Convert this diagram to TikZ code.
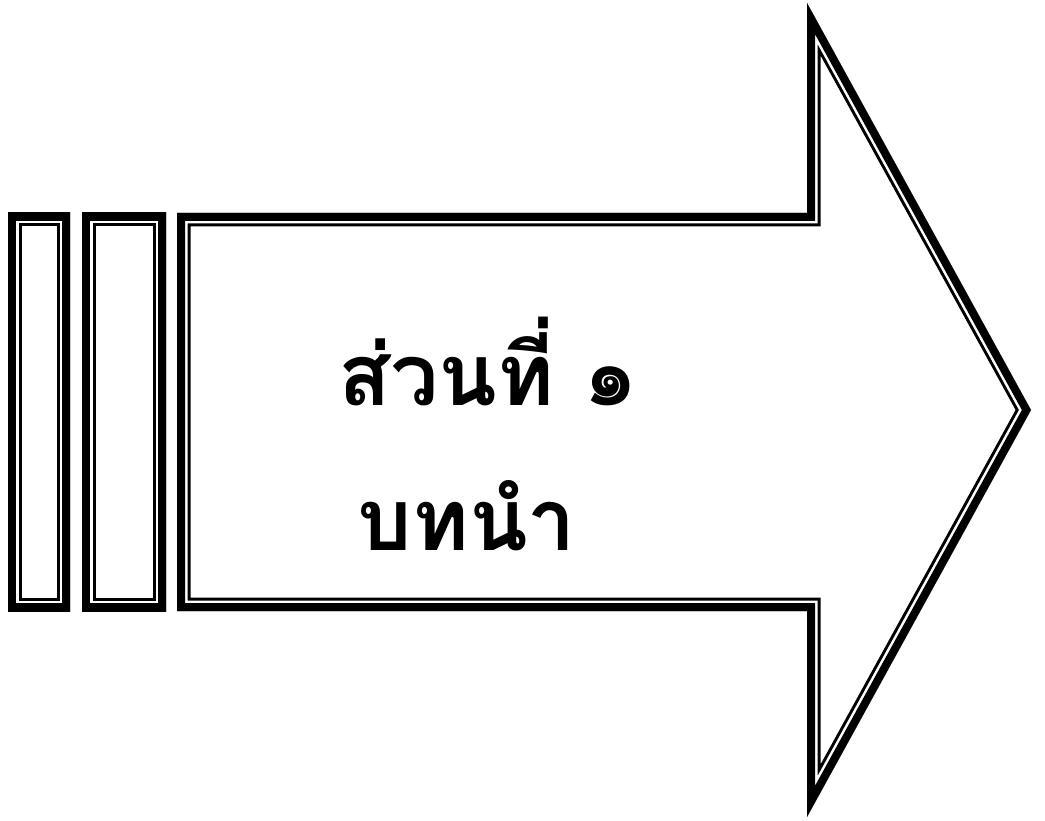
\documentclass[tikz,border=0pt]{standalone}
\usepackage{fontspec}
\newfontfamily\thaifont[Script=Thai]{Loma}

% thick-thin outline drawn inside the given closed path
\newcommand\thickthin[1]{%
  \begin{scope}
    \clip #1;
    \draw[line width=27pt, line join=miter] #1;
    \draw[white, line width=21pt, line join=miter] #1;
    \draw[line width=16pt, line join=miter] #1;
  \end{scope}}

\begin{document}
\begin{tikzpicture}[x=1pt, y=-1pt,
  lbl/.style={font=\thaifont\bfseries\fontsize{86}{96}\selectfont, inner sep=0pt, anchor=base}
]
\useasboundingbox (0,0) rectangle (1045,821);

% the two bars
\thickthin{(8,213) rectangle (70,611)}
\thickthin{(82,213) rectangle (166,611)}

% the arrow
\thickthin{(177,213) -- (807,213) -- (807,3) -- (1031,410) -- (807,817) -- (807,611) -- (177,611) -- cycle}

\node[lbl] (part) at (488,405) {ส่วนที่ ๑};
\node[lbl] (intro) at (467,550) {บทนำ};
\end{tikzpicture}
\end{document}
